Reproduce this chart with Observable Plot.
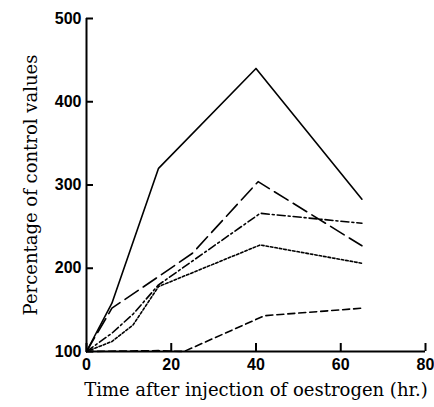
<!DOCTYPE html>
<html>
<head>
<meta charset="utf-8">
<script src="https://cdn.jsdelivr.net/npm/d3@7"></script>
<script src="https://cdn.jsdelivr.net/npm/@observablehq/plot@0.6"></script>
<style>
  html, body { margin: 0; padding: 0; background: #fff; }
  svg { display: block; }
</style>
</head>
<body>
<div id="chart"></div>
<script>
// Time (hr.) and percentage of control values for each curve
const solidT = [0, 6, 17, 40, 65];
const solidV = [100, 158, 320, 440, 283];
const longDashT = [0, 6, 17, 25, 40.5, 65];
const longDashV = [100, 152, 190, 218, 304, 227];
const dashDotT = [0, 6, 11, 17, 41, 65];
const dashDotV = [100, 122, 145, 180, 266, 254];
const dottedT = [0, 6, 11, 17, 41, 65];
const dottedV = [100, 112, 132, 178, 228, 206];
const dashedT = [0, 17, 23, 42, 65];
const dashedV = [100, 101, 100, 143, 152];

const xTicks = [0, 20, 40, 60, 80];
const yTicks = [100, 200, 300, 400, 500];
const xLabel = "Time after injection of oestrogen (hr.)";
const yLabel = "Percentage of control values";

const toRows = (t, v) => t.map((x, i) => ({x, y: v[i]}));

const series = [
  {rows: toRows(solidT, solidV), dash: null},
  {rows: toRows(longDashT, longDashV), dash: "16,6"},
  {rows: toRows(dashDotT, dashDotV), dash: "8,3,2,3"},
  {rows: toRows(dottedT, dottedV), dash: "2.5,2"},
  {rows: toRows(dashedT, dashedV), dash: "7,4"}
];

const W = 434, H = 407;
const mL = 86, mR = 9, mT = 18, mB = 56;
const plotW = W - mL - mR, plotH = H - mT - mB;

const serif = "'DejaVu Serif', 'Liberation Serif', serif";
const sans = "'Liberation Sans', Arial, sans-serif";

const chart = Plot.plot({
  width: W,
  height: H,
  marginLeft: mL,
  marginRight: mR,
  marginTop: mT,
  marginBottom: mB,
  style: {background: "#fff", color: "#000", fontFamily: sans},
  x: {domain: [0, 80]},
  y: {domain: [100, 500]},
  marks: [
    Plot.axisX(xTicks, {tickSize: 0, tickPadding: 7, label: null, fontSize: 16, fontWeight: "bold", fontFamily: sans}),
    Plot.axisY(yTicks, {tickSize: 0, tickPadding: 5, label: null, fontSize: 16, fontWeight: "bold", fontFamily: sans}),
    Plot.ruleY([100], {stroke: "#000", strokeWidth: 2}),
    Plot.ruleX([0], {stroke: "#000", strokeWidth: 2}),
    Plot.tickY(yTicks, {y: d => d, stroke: "#000", strokeWidth: 2, insetRight: plotW - 7}),
    Plot.tickX(xTicks, {x: d => d, stroke: "#000", strokeWidth: 2, insetTop: plotH - 8}),
    ...series.map(s => Plot.line(s.rows, {x: "x", y: "y", stroke: "#000", strokeWidth: 1.6, strokeDasharray: s.dash})),
    Plot.text([xLabel], {frameAnchor: "bottom", textAnchor: "middle", dy: 44, fontSize: 18, fontFamily: serif, fill: "#000"}),
    Plot.text([yLabel], {frameAnchor: "left", textAnchor: "middle", rotate: -90, dx: -55, fontSize: 18, fontFamily: serif, fill: "#000"})
  ]
});
document.getElementById("chart").appendChild(chart);
</script>
</body>
</html>
